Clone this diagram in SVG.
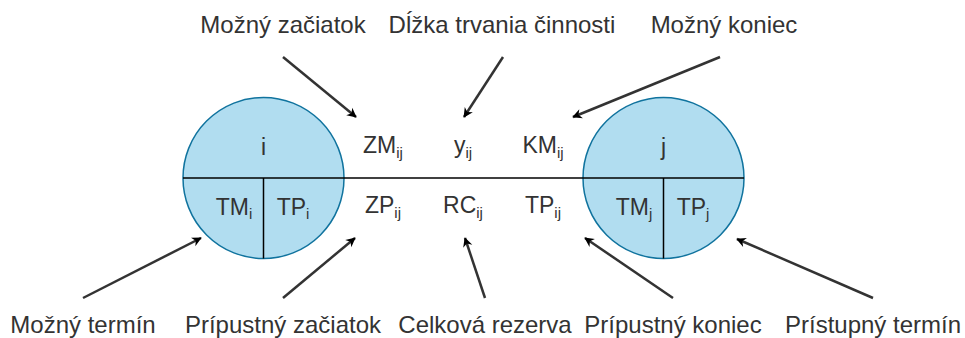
<svg xmlns="http://www.w3.org/2000/svg" width="965" height="338" viewBox="0 0 965 338">
  <style>
    .node { fill: #b1ddf0; stroke: #10739e; stroke-width: 1.5; }
    .div { stroke: #000; stroke-width: 1.5; fill: none; }
    .lbl { font-family: "Liberation Sans", Arial, sans-serif; font-size: 24px; fill: #333; text-anchor: middle; }
    .sym { font-family: "Liberation Sans", Arial, sans-serif; font-size: 23px; fill: #333; text-anchor: middle; }
    .sub { font-size: 15px; }
    .arrow { stroke: #333; stroke-width: 2.5; fill: none; marker-end: url(#head); }
  </style>
  <defs>
    <marker id="head" viewBox="0 0 10 10" refX="9" refY="5" markerWidth="6" markerHeight="6" markerUnits="userSpaceOnUse" orient="auto" overflow="visible">
      <path d="M0,0 L10,5 L0,10 L3,5 Z" fill="#000" transform="scale(1.6) translate(-3.5,-1.9)"/>
    </marker>
  </defs>

  <rect width="965" height="338" fill="#fff"/>

  <!-- event i -->
  <g id="node-i">
    <circle class="node" cx="263.5" cy="178" r="80.5"/>
    <line class="div" x1="263.5" y1="178" x2="263.5" y2="258.5"/>
    <text class="sym" x="263.5" y="155">i</text>
    <text class="sym" x="234" y="215">TM<tspan class="sub" dy="4">i</tspan></text>
    <text class="sym" x="293" y="215">TP<tspan class="sub" dy="4">i</tspan></text>
  </g>

  <!-- event j -->
  <g id="node-j">
    <circle class="node" cx="663.5" cy="178" r="80.5"/>
    <line class="div" x1="663.5" y1="178" x2="663.5" y2="258.5"/>
    <text class="sym" x="663.5" y="155">j</text>
    <text class="sym" x="634" y="215">TM<tspan class="sub" dy="4">j</tspan></text>
    <text class="sym" x="693" y="215">TP<tspan class="sub" dy="4">j</tspan></text>
  </g>

  <!-- activity i-j -->
  <g id="activity">
    <line class="div" x1="183" y1="178" x2="744" y2="178"/>
    <text class="sym" x="383" y="153">ZM<tspan class="sub" dy="5">ij</tspan></text>
    <text class="sym" x="463" y="153">y<tspan class="sub" dy="5">ij</tspan></text>
    <text class="sym" x="543" y="153">KM<tspan class="sub" dy="5">ij</tspan></text>
    <text class="sym" x="383" y="213">ZP<tspan class="sub" dy="5">ij</tspan></text>
    <text class="sym" x="463" y="213">RC<tspan class="sub" dy="5">ij</tspan></text>
    <text class="sym" x="543" y="213">TP<tspan class="sub" dy="5">ij</tspan></text>
  </g>

  <!-- captions -->
  <g id="captions">
    <text class="lbl" x="283" y="33">Možný začiatok</text>
    <text class="lbl" x="502" y="33">Dĺžka trvania činnosti</text>
    <text class="lbl" x="724" y="33">Možný koniec</text>
    <text class="lbl" x="83" y="333">Možný termín</text>
    <text class="lbl" x="283" y="333">Prípustný začiatok</text>
    <text class="lbl" x="485" y="333">Celková rezerva</text>
    <text class="lbl" x="673" y="333">Prípustný koniec</text>
    <text class="lbl" x="873" y="333">Prístupný termín</text>
  </g>

  <!-- pointers -->
  <g id="connectors">
    <line class="arrow" x1="283" y1="57" x2="356" y2="117"/>
    <line class="arrow" x1="503" y1="57" x2="464" y2="117"/>
    <line class="arrow" x1="720" y1="57" x2="573" y2="117"/>
    <line class="arrow" x1="83" y1="298" x2="201" y2="238"/>
    <line class="arrow" x1="283" y1="298" x2="355" y2="238"/>
    <line class="arrow" x1="485" y1="298" x2="465" y2="238"/>
    <line class="arrow" x1="673" y1="298" x2="585" y2="238"/>
    <line class="arrow" x1="873" y1="298" x2="737" y2="239"/>
  </g>
</svg>
